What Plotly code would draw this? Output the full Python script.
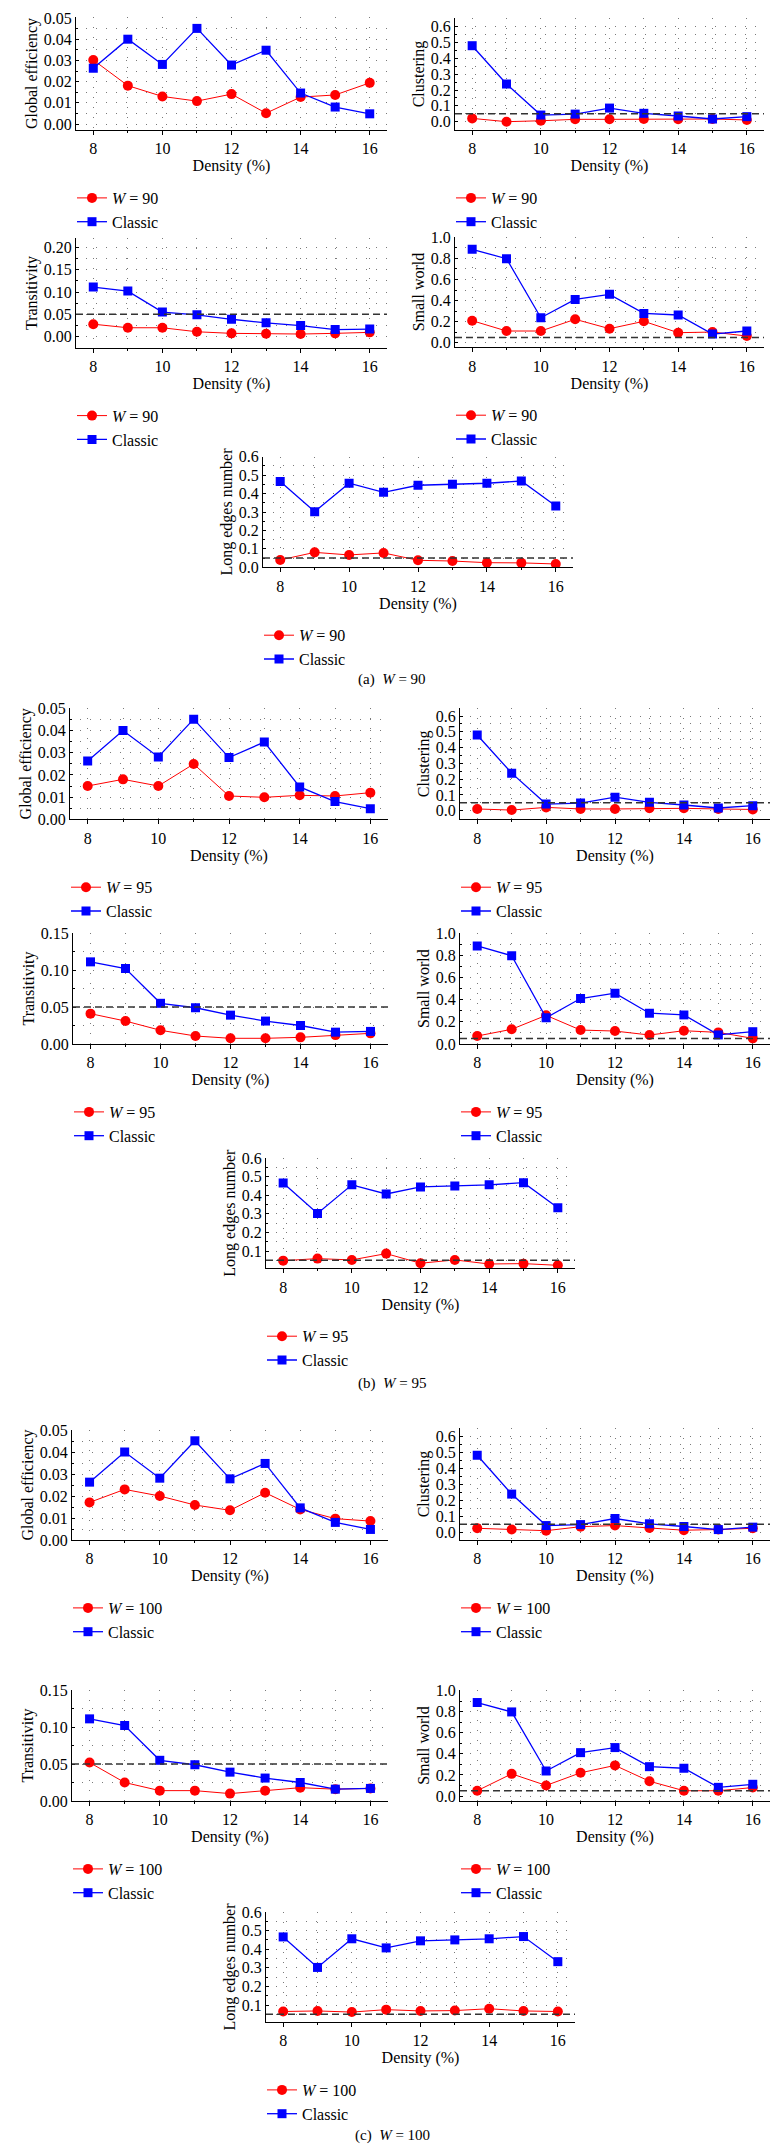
import plotly.graph_objects as go

# ---------------- data ----------------
density = [8, 9, 10, 11, 12, 13, 14, 15, 16]
x_tick_values = [8, 10, 12, 14, 16]

metric_titles = ["Global efficiency", "Clustering", "Transitivity", "Small world", "Long edges number"]
window_sizes = ["90", "95", "100"]
group_letters = ["a", "b", "c"]

# Classic method (identical in the three groups)
classic_global_efficiency = [0.0263, 0.0400, 0.0281, 0.0451, 0.0278, 0.0348, 0.0146, 0.0080, 0.0048]
classic_clustering = [0.480, 0.238, 0.042, 0.048, 0.086, 0.053, 0.036, 0.017, 0.032]
classic_transitivity = [0.111, 0.102, 0.055, 0.049, 0.039, 0.031, 0.025, 0.016, 0.017]
classic_small_world = [0.886, 0.797, 0.237, 0.411, 0.459, 0.278, 0.263, 0.082, 0.111]
classic_long_edges = [0.466, 0.302, 0.456, 0.407, 0.445, 0.450, 0.456, 0.468, 0.333]

w90_global_efficiency = [0.0302, 0.0181, 0.0130, 0.0108, 0.0141, 0.0051, 0.0127, 0.0137, 0.0194]
w90_clustering = [0.021, 0.000, 0.006, 0.015, 0.015, 0.017, 0.015, 0.017, 0.011]
w90_transitivity = [0.028, 0.020, 0.020, 0.011, 0.0075, 0.0067, 0.006, 0.0075, 0.0097]
w90_small_world = [0.209, 0.111, 0.111, 0.222, 0.133, 0.203, 0.095, 0.101, 0.063]
w90_long_edges = [0.040, 0.081, 0.067, 0.078, 0.038, 0.034, 0.025, 0.024, 0.018]

w95_global_efficiency = [0.0150, 0.0180, 0.0150, 0.0249, 0.0105, 0.0099, 0.0108, 0.0105, 0.0120]
w95_clustering = [0.011, 0.004, 0.021, 0.011, 0.011, 0.015, 0.015, 0.011, 0.008]
w95_transitivity = [0.041, 0.031, 0.0185, 0.0108, 0.0077, 0.0077, 0.009, 0.012, 0.0144]
w95_small_world = [0.072, 0.133, 0.259, 0.126, 0.117, 0.081, 0.120, 0.105, 0.051]
w95_long_edges = [0.048, 0.059, 0.052, 0.086, 0.034, 0.052, 0.030, 0.032, 0.023]

w100_global_efficiency = [0.0171, 0.0230, 0.0200, 0.0159, 0.0135, 0.0215, 0.0139, 0.0097, 0.0086]
w100_clustering = [0.025, 0.017, 0.010, 0.035, 0.042, 0.027, 0.013, 0.017, 0.025]
w100_transitivity = [0.052, 0.025, 0.014, 0.014, 0.010, 0.014, 0.018, 0.016, 0.017]
w100_small_world = [0.050, 0.210, 0.100, 0.220, 0.290, 0.140, 0.050, 0.050, 0.080]
w100_long_edges = [0.065, 0.068, 0.062, 0.075, 0.068, 0.070, 0.080, 0.068, 0.065]

threshold = 0.05

# ---------------- layout helpers ----------------
W, H = 780, 2150
FONT = "Liberation Serif, Times New Roman, serif"
RED = "#ff0000"
BLUE = "#0000ff"
GRID = "#7a7a7a"

classic_series = [classic_global_efficiency, classic_clustering, classic_transitivity,
                  classic_small_world, classic_long_edges]
window_series = [
    [w90_global_efficiency, w90_clustering, w90_transitivity, w90_small_world, w90_long_edges],
    [w95_global_efficiency, w95_clustering, w95_transitivity, w95_small_world, w95_long_edges],
    [w100_global_efficiency, w100_clustering, w100_transitivity, w100_small_world, w100_long_edges],
]

# panel geometry in pixels: left, right, top, bottom, (value, px), (value, px)
geometry = [
    # group a
    [(76, 387, 17, 130, (0.05, 18), (0.0, 124)),
     (455, 764, 18, 130, (0.6, 26.7), (0.0, 121.7)),
     (76, 387, 238.3, 347.7, (0.2, 247.3), (0.0, 336.7)),
     (455, 764, 236.7, 347.3, (1.0, 237.3), (0.0, 342.7)),
     (263, 573, 456.7, 567.3, (0.6, 456.7), (0.0, 567.3))],
    # group b
    [(70, 388, 708.3, 819.3, (0.05, 708.3), (0.0, 819.3)),
     (460, 770, 708.3, 819.3, (0.6, 716), (0.0, 810.7)),
     (73, 388, 933, 1044, (0.1, 970), (0.0, 1044)),
     (460, 770, 933.3, 1044, (1.0, 933.3), (0.0, 1044)),
     (266, 575, 1158, 1268.3, (0.5, 1176.7), (0.1, 1251))],
    # group c
    [(72, 388, 1430, 1540, (0.05, 1430), (0.0, 1540)),
     (460, 770, 1428, 1540, (0.6, 1436), (0.0, 1532.3)),
     (72, 388, 1690, 1801, (0.15, 1690), (0.0, 1801)),
     (460, 770, 1690, 1801, (1.0, 1690.5), (0.0, 1796)),
     (266, 575, 1912, 2022, (0.6, 1912), (0.1, 2005))],
]

captions_y = [679, 1383, 2135]
caption_x = [392, 392, 392]

def ticks_for(metric, group):
    if metric == 0:
        return [0.0, 0.01, 0.02, 0.03, 0.04, 0.05], "{:.2f}", 0.005
    if metric == 1:
        return [0.0, 0.1, 0.2, 0.3, 0.4, 0.5, 0.6], "{:.1f}", 0.05
    if metric == 2:
        if group == 0:
            return [0.0, 0.05, 0.10, 0.15, 0.20], "{:.2f}", 0.025
        return [0.0, 0.05, 0.10, 0.15], "{:.2f}", 0.025
    if metric == 3:
        return [0.0, 0.2, 0.4, 0.6, 0.8, 1.0], "{:.1f}", 0.1
    if group == 0:
        return [0.0, 0.1, 0.2, 0.3, 0.4, 0.5, 0.6], "{:.1f}", 0.05
    return [0.1, 0.2, 0.3, 0.4, 0.5, 0.6], "{:.1f}", 0.05


fig = go.Figure()
layout = {}
shapes = []
annotations = []

n = 0
for g in range(3):
    for m in range(5):
        n += 1
        sfx = "" if n == 1 else str(n)
        left, right, top, bottom, (v1, p1), (v2, p2) = geometry[g][m]
        per_px = (v1 - v2) / (p2 - p1)
        ymax = v1 + (p1 - top) * per_px
        ymin = v2 - (bottom - p2) * per_px
        leg = "legend" + sfx
        fig.add_trace(go.Scatter(
            x=density, y=window_series[g][m], mode="lines+markers",
            name="<i>W</i> = " + window_sizes[g],
            line=dict(color=RED, width=1),
            marker=dict(symbol="circle", size=10, color=RED),
            xaxis="x" + sfx, yaxis="y" + sfx, legend=leg))
        fig.add_trace(go.Scatter(
            x=density, y=classic_series[m], mode="lines+markers",
            name="Classic",
            line=dict(color=BLUE, width=1.3),
            marker=dict(symbol="square", size=9, color=BLUE),
            xaxis="x" + sfx, yaxis="y" + sfx, legend=leg))

        tv, fmt, minor_step = ticks_for(m, g)
        layout["xaxis" + sfx] = dict(
            domain=[left / W, right / W], anchor="y" + sfx, range=[7.5, 16.5],
            tickvals=x_tick_values, ticktext=[str(v) for v in x_tick_values],
            showline=True, linecolor="black", linewidth=1.3,
            ticks="outside", ticklen=4, tickcolor="black",
            showgrid=True, gridcolor=GRID, griddash="1px,9px", gridwidth=1,
            minor=dict(dtick=1, tick0=8, showgrid=True, gridcolor=GRID, griddash="1px,9px",
                       ticks="outside", ticklen=2, tickcolor="black"),
            zeroline=False, automargin=False,
            tickfont=dict(size=16, color="black", family=FONT),
            title=dict(text="Density (%)", font=dict(size=16, color="black", family=FONT), standoff=2),
        )
        layout["yaxis" + sfx] = dict(
            domain=[1 - bottom / H, 1 - top / H], anchor="x" + sfx, range=[ymin, ymax],
            tickvals=tv, ticktext=[fmt.format(v) for v in tv],
            showline=True, linecolor="black", linewidth=1.3,
            ticks="inside", ticklen=3, tickcolor="black",
            showgrid=True, gridcolor=GRID, griddash="1px,9px", gridwidth=1,
            minor=dict(dtick=minor_step, tick0=0, showgrid=True, gridcolor=GRID, griddash="1px,9px",
                       ticks="inside", ticklen=2, tickcolor="black"),
            zeroline=False, automargin=False,
            tickfont=dict(size=16, color="black", family=FONT),
            title=dict(text=metric_titles[m], font=dict(size=16, color="black", family=FONT), standoff=2),
        )
        layout[leg] = dict(
            x=(left - 4) / W, y=1 - (bottom + 51) / H, xanchor="left", yanchor="top",
            bgcolor="rgba(0,0,0,0)", borderwidth=0, tracegroupgap=0,
            font=dict(size=16, family=FONT, color="black"), itemwidth=30,
        )
        if m > 0:
            shapes.append(dict(type="line", xref="x" + sfx + " domain", x0=0, x1=1,
                               yref="y" + sfx, y0=threshold, y1=threshold,
                               line=dict(color="#333333", width=1.5, dash="7px,4px"), layer="above"))
    annotations.append(dict(text="(" + group_letters[g] + ")  <i>W</i> = " + window_sizes[g],
                            x=caption_x[g] / W, y=1 - captions_y[g] / H, xref="paper", yref="paper",
                            xanchor="center", yanchor="middle", showarrow=False,
                            font=dict(size=15, family=FONT, color="black")))

fig.update_layout(
    template="none",
    width=W, height=H,
    margin=dict(l=0, r=0, t=0, b=0),
    paper_bgcolor="white", plot_bgcolor="white",
    font=dict(family=FONT, color="black", size=16),
    shapes=shapes, annotations=annotations,
    **layout,
)

fig.write_html("out.html", config={"displayModeBar": False},
               post_script="document.body.style.margin='0';document.body.style.overflow='hidden';")
